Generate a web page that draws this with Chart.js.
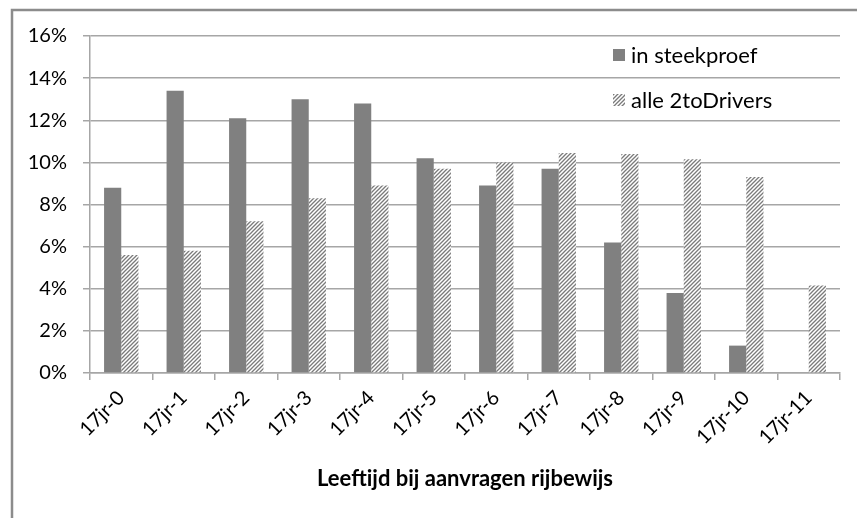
<!DOCTYPE html>
<html>
<head>
<meta charset="utf-8">
<script src="https://cdn.jsdelivr.net/npm/chart.js@4.4.1/dist/chart.umd.min.js"></script>
<style>
  html, body { margin: 0; padding: 0; background: #ffffff; }
  canvas { display: block; }
</style>
</head>
<body>
<canvas id="c" width="857" height="518"></canvas>
<script>
// ---- data ----
const categories = ['17jr-0','17jr-1','17jr-2','17jr-3','17jr-4','17jr-5','17jr-6','17jr-7','17jr-8','17jr-9','17jr-10','17jr-11'];
const steekproef = [8.8, 13.4, 12.1, 13.0, 12.8, 10.2, 8.9, 9.7, 6.2, 3.8, 1.3, 0];
const alleDrivers = [5.6, 5.8, 7.2, 8.3, 8.9, 9.7, 10.0, 10.45, 10.4, 10.15, 9.3, 4.15];
const seriesNames = ['in steekproef', 'alle 2toDrivers'];
const yTickValues = [0, 2, 4, 6, 8, 10, 12, 14, 16];
const xTitle = 'Leeftijd bij aanvragen rijbewijs';

const FONT = 'Lato, "Open Sans", sans-serif';

function makeHatch() {
  const s = 4;
  const pc = document.createElement('canvas');
  pc.width = s; pc.height = s;
  const g = pc.getContext('2d');
  g.fillStyle = '#ffffff';
  g.fillRect(0, 0, s, s);
  g.strokeStyle = '#7a7a7a';
  g.lineWidth = 1.3;
  g.beginPath();
  g.moveTo(-1, s + 1); g.lineTo(s + 1, -1);
  g.moveTo(-1, 1); g.lineTo(1, -1);
  g.moveTo(s - 1, s + 1); g.lineTo(s + 1, s - 1);
  g.stroke();
  return g.createPattern(pc, 'repeat');
}
const ctx = document.getElementById('c').getContext('2d');
const hatch = makeHatch();
const solidColor = '#808080';

const frame = {
  id: 'frame',
  beforeDraw(chart) {
    const c = chart.ctx;
    c.save();
    c.fillStyle = '#fff';
    c.fillRect(0, 0, chart.width, chart.height);
    c.strokeStyle = '#8c8c8c';
    c.lineWidth = 2.5;
    c.beginPath();
    c.moveTo(12, chart.height + 5);
    c.lineTo(12, 10);
    c.lineTo(chart.width + 5, 10);
    c.stroke();
    c.restore();
  }
};

const customLegend = {
  id: 'customLegend',
  afterDraw(chart) {
    const c = chart.ctx;
    const ds = chart.data.datasets;
    const x = 613, ys = [55, 100];
    c.save();
    c.font = '22px ' + FONT;
    c.textBaseline = 'middle';
    ds.forEach((d, i) => {
      c.fillStyle = d.backgroundColor;
      c.fillRect(x, ys[i] - 6, 12, 12);
      c.fillStyle = '#000';
      c.fillText(d.label, x + 18, ys[i] + 1);
    });
    c.restore();
  }
};

new Chart(ctx, {
  type: 'bar',
  data: {
    labels: categories,
    datasets: [
      { label: seriesNames[0], data: steekproef, backgroundColor: solidColor, borderWidth: 0 },
      { label: seriesNames[1], data: alleDrivers, backgroundColor: hatch, borderWidth: 0 }
    ]
  },
  options: {
    responsive: false,
    animation: false,
    devicePixelRatio: 1,
    layout: { padding: { top: 36, right: 17, left: 0, bottom: 0 } },
    datasets: { bar: { categoryPercentage: 0.55, barPercentage: 1.0 } },
    plugins: { legend: { display: false }, tooltip: { enabled: false } },
    scales: {
      x: {
        grid: { drawOnChartArea: false, drawTicks: true, tickLength: 7, color: '#a6a6a6', lineWidth: 1.5, offset: true },
        border: { display: true, color: '#a6a6a6', width: 1.5 },
        ticks: { color: '#000', font: { family: FONT, size: 20 }, minRotation: 45, maxRotation: 45, padding: 6, autoSkip: false },
        title: { display: true, text: xTitle, color: '#000', font: { family: FONT, size: 22, weight: 'bold' }, padding: { top: 0, bottom: 26 } },
        afterFit(scale) { scale.height = 145; }
      },
      y: {
        min: 0, max: 16,
        afterBuildTicks(scale) { scale.ticks = yTickValues.map(v => ({ value: v })); },
        grid: { color: '#a6a6a6', lineWidth: 1.5, tickLength: 7 },
        border: { display: true, color: '#a6a6a6', width: 1.5 },
        ticks: { color: '#000', font: { family: FONT, size: 20 }, padding: 16, callback: v => v + '%' },
        afterFit(scale) { scale.width = 90; }
      }
    }
  },
  plugins: [frame, customLegend]
});
</script>
</body>
</html>
